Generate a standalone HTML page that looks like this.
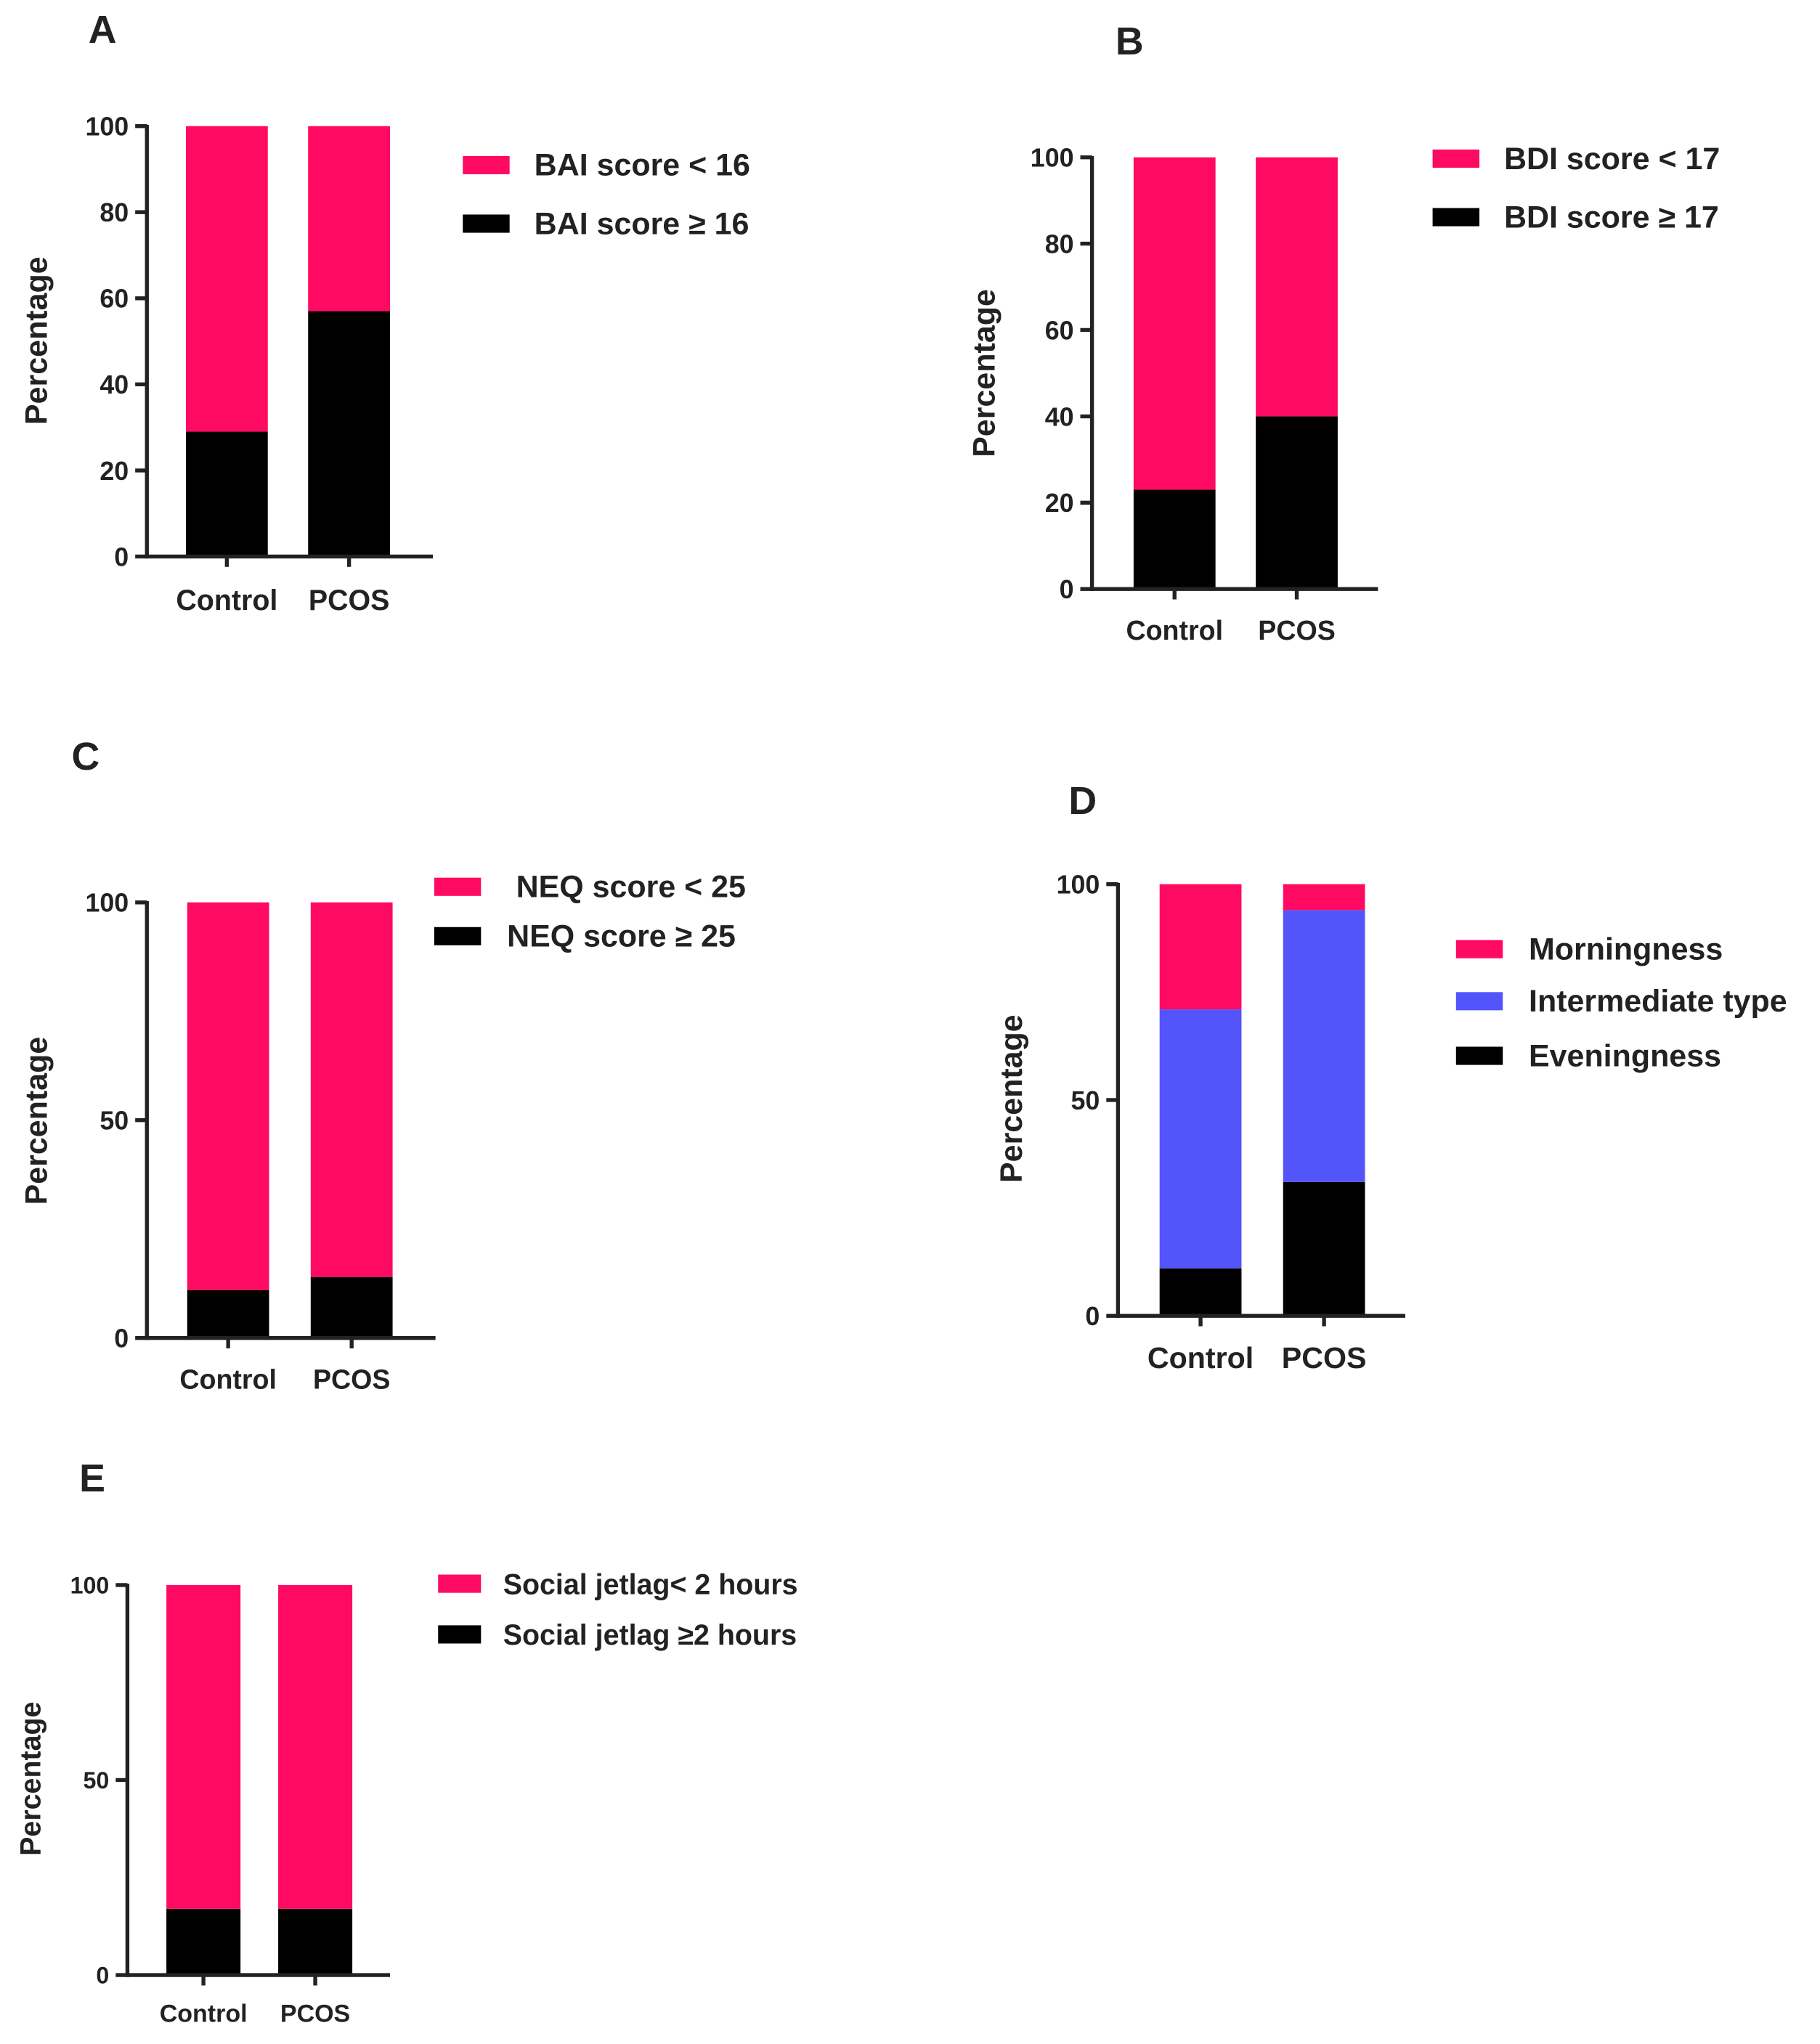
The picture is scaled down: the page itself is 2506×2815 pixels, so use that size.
<!DOCTYPE html>
<html><head><meta charset="utf-8"><style>
html,body{margin:0;padding:0;background:#fff}
svg{display:block}
text{font-family:"Liberation Sans",Arial,sans-serif;font-weight:bold;fill:#222}
</style></head><body>
<svg id="chart" width="2506" height="2815" viewBox="0 0 1400 1572" preserveAspectRatio="none" xmlns="http://www.w3.org/2000/svg"></svg>
<script>
const categories = ["Control", "PCOS"];
// Panel A
const aBlack = [29, 57];
const aTicks = [0, 20, 40, 60, 80, 100];
const aLegend = ["BAI score < 16", "BAI score \u2265 16"];
// Panel B
const bBlack = [23, 40];
const bTicks = [0, 20, 40, 60, 80, 100];
const bLegend = ["BDI score < 17", "BDI score \u2265 17"];
// Panel C
const cBlack = [11, 14];
const cTicks = [0, 50, 100];
const cLegend = ["NEQ score < 25", "NEQ score \u2265 25"];
// Panel D
const dEvening = [11, 31];
const dIntermediate = [60, 63];
const dTicks = [0, 50, 100];
const dLegend = ["Morningness", "Intermediate type", "Eveningness"];
// Panel E
const eBlack = [17, 17];
const eTicks = [0, 50, 100];
const eLegend = ["Social jetlag< 2 hours", "Social jetlag \u22652 hours"];

const PINK = "#ff0a63", BLUE = "#5454fb", BLACK = "#000";
const svg = document.getElementById("chart");
const NS = "http://www.w3.org/2000/svg";
function mk(tag, attrs, parent) {
  const e = document.createElementNS(NS, tag);
  for (const k in attrs) e.setAttribute(k, attrs[k]);
  (parent || svg).appendChild(e);
  return e;
}

function panel(p) {
  const g = mk("g", {});
  
  
  const y = v => p.y0 - (v / 100) * (p.y0 - p.y100);
  const t = mk("text", {x: p.titleX, y: p.titleY, "font-size": 30}, g);
  t.textContent = p.id;
  
  
  categories.forEach((c, i) => {
    const x0 = p.barX[i], w = p.barW;
    let base = 0;
    p.series.forEach((s, si) => {
      const v = s.vals ? s.vals[i] : 100 - base;
      const r = mk("rect", {x: x0, y: y(base + v), width: w, height: y(base) - y(base + v), fill: s.color}, g);
      
      
      base += v;
    });
    const tk = mk("line", {x1: x0 + w / 2, x2: x0 + w / 2, y1: p.y0, y2: p.y0 + 8, stroke: "#222", "stroke-width": 3}, g);
    
    
    const lb = mk("text", {x: x0 + w / 2, y: p.catY, "font-size": p.cfs, "text-anchor": "middle"}, g);
    lb.textContent = c;
    
    
  });
  const ya = mk("line", {x1: p.ax, x2: p.ax, y1: p.y100 - 1, y2: p.y0 + 1.5, stroke: "#222", "stroke-width": 3}, g);
  
  
  const xa = mk("line", {x1: p.ax - 1.5, x2: p.axEnd, y1: p.y0, y2: p.y0, stroke: "#222", "stroke-width": 3}, g);
  
  
  p.ticks.forEach(v => {
    const l = mk("line", {x1: p.ax - 9, x2: p.ax, y1: y(v), y2: y(v), stroke: "#222", "stroke-width": 3}, g);
    
    
    const tx = mk("text", {x: p.ax - 14, y: y(v) + p.fs * 0.36, "font-size": p.fs, "text-anchor": "end"}, g);
    tx.textContent = v;
    
    
  });
  const yt = mk("text", {x: 0, y: 0, "font-size": p.fs + 4, "text-anchor": "middle", transform: `translate(${p.ytX},${p.ytY}) rotate(-90)`}, g);
  yt.textContent = "Percentage";
  
  
  p.legend.forEach((s, i) => {
    const ly = p.legY[i];
    const r = mk("rect", {x: p.legX, y: ly - 7, width: p.legW, height: 14, fill: s.color}, g);
    
    
    const tx = mk("text", {x: p.legTX[i], y: ly + 8, "font-size": p.lfs}, g);
    tx.textContent = s.label;
    
    
  });
}

panel({id: "A", titleX: 68, titleY: 33, ax: 113, axEnd: 333, y0: 428, y100: 97, barX: [143, 237], barW: 63,
  series: [{key: "high", vals: aBlack, color: BLACK}, {key: "low", color: PINK}], ticks: aTicks, fs: 20, cfs: 22, lfs: 24, catY: 469,
  ytX: 36, ytY: 262, legX: 356, legW: 36, legY: [127, 172], legTX: [411, 411],
  legend: [{label: aLegend[0], color: PINK}, {label: aLegend[1], color: BLACK}]});
panel({id: "B", titleX: 858, titleY: 42, ax: 840, axEnd: 1060, y0: 453, y100: 121, barX: [872, 966], barW: 63,
  series: [{key: "high", vals: bBlack, color: BLACK}, {key: "low", color: PINK}], ticks: bTicks, fs: 20, cfs: 21, lfs: 24, catY: 492,
  ytX: 765, ytY: 287, legX: 1102, legW: 36, legY: [122, 167], legTX: [1157, 1157],
  legend: [{label: bLegend[0], color: PINK}, {label: bLegend[1], color: BLACK}]});
panel({id: "C", titleX: 55, titleY: 592, ax: 113, axEnd: 335, y0: 1029, y100: 694, barX: [144, 239], barW: 63,
  series: [{key: "high", vals: cBlack, color: BLACK}, {key: "low", color: PINK}], ticks: cTicks, fs: 20, cfs: 21, lfs: 24, catY: 1068,
  ytX: 36, ytY: 862, legX: 334, legW: 36, legY: [682, 720], legTX: [397, 390],
  legend: [{label: cLegend[0], color: PINK}, {label: cLegend[1], color: BLACK}]});
panel({id: "D", titleX: 822, titleY: 626, ax: 860, axEnd: 1081, y0: 1012, y100: 680, barX: [892, 987], barW: 63,
  series: [{key: "evening", vals: dEvening, color: BLACK}, {key: "intermediate", vals: dIntermediate, color: BLUE}, {key: "morning", color: PINK}],
  ticks: dTicks, fs: 20, cfs: 23, lfs: 24, catY: 1052,
  ytX: 786, ytY: 845, legX: 1120, legW: 36, legY: [730, 770, 812], legTX: [1176, 1176, 1176],
  legend: [{label: dLegend[0], color: PINK}, {label: dLegend[1], color: BLUE}, {label: dLegend[2], color: BLACK}]});
panel({id: "E", titleX: 61, titleY: 1147, ax: 98, axEnd: 300, y0: 1519, y100: 1219, barX: [128, 214], barW: 57,
  series: [{key: "high", vals: eBlack, color: BLACK}, {key: "low", color: PINK}], ticks: eTicks, fs: 18, cfs: 19, lfs: 22, catY: 1555,
  ytX: 31, ytY: 1368, legX: 337, legW: 33, legY: [1218, 1257], legTX: [387, 387],
  legend: [{label: eLegend[0], color: PINK}, {label: eLegend[1], color: BLACK}]});
</script>
</body></html>
